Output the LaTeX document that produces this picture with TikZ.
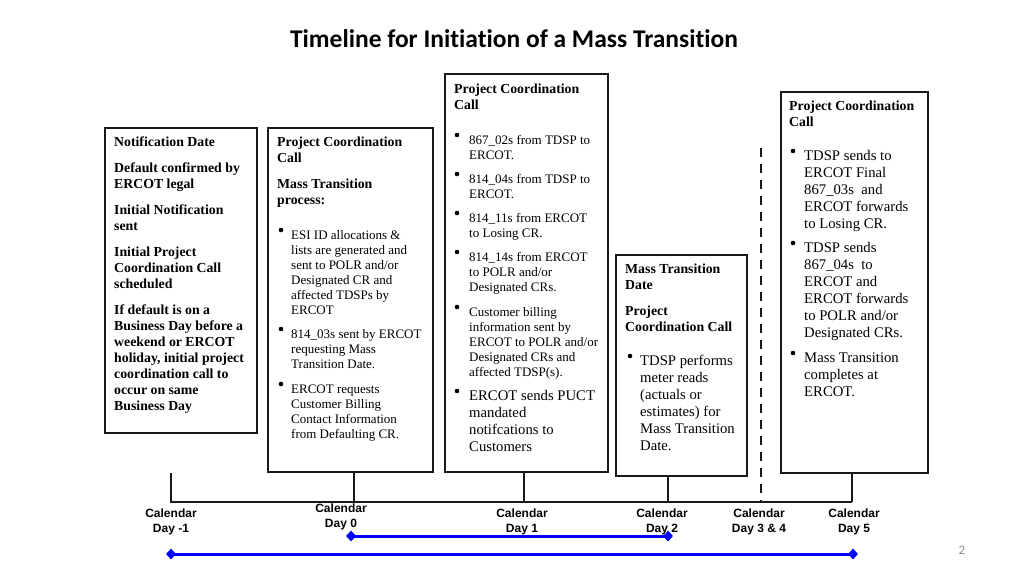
\documentclass[tikz,border=0pt]{standalone}
\usepackage{fontspec}
\setmainfont{Liberation Serif}
\newfontfamily\titlefont[Ligatures=NoCommon]{Carlito}
\newfontfamily\labfont{Liberation Sans}
\usetikzlibrary{shapes.geometric}
\newcommand\tl[1]{\begin{tabular}[t]{@{}l@{}}#1\end{tabular}}
\tikzset{
  box/.style={draw=black!90, line width=1.8pt, outer sep=0pt, inner sep=0pt, anchor=north west},
  hb/.style={anchor=base west, inner sep=0pt, font=\fontsize{13.8}{16}\selectfont\bfseries},
  sm/.style={anchor=base west, inner sep=0pt, font=\fontsize{13}{15}\selectfont},
  lg/.style={anchor=base west, inner sep=0pt, font=\fontsize{14.7}{17}\selectfont},
  bul/.style={circle, fill=black, inner sep=0pt, minimum size=4.6pt},
  tickline/.style={draw=black!90, line width=1.4pt},
  dashline/.style={draw=black!90, line width=2pt, dash pattern=on 9pt off 7pt},
  calab/.style={align=center, inner sep=0pt, anchor=base, font=\labfont\bfseries\fontsize{12}{15}\selectfont},
  dmd/.style={diamond, fill=blue, inner sep=0pt, minimum width=10pt, minimum height=11pt},
  blueline/.style={draw=blue, line width=3pt},
}
\begin{document}
\begin{tikzpicture}[x=1pt,y=-1pt]
\useasboundingbox (0,0) rectangle (1024,576);
% title
\node[anchor=base, inner sep=0pt, font=\titlefont\bfseries\fontsize{25.5}{28}\selectfont] (title) at (514,47) {Timeline for Initiation of a Mass Transition};

% boxes
\node[box, minimum width=152pt, minimum height=305pt] (b1) at (105,128) {};
\node[box, minimum width=165pt, minimum height=344pt] (b2) at (268,128) {};
\node[box, minimum width=163pt, minimum height=398pt] (b3) at (445,74) {};
\node[box, minimum width=131pt, minimum height=221pt] (b4) at (616,255) {};
\node[box, minimum width=147pt, minimum height=381pt] (b5) at (781,92) {};

% box 1
\node[hb] (b1p1) at (114,146) {\tl{Notification Date}};
\node[hb] (b1p2) at (114,172) {\tl{Default confirmed by\\ERCOT legal}};
\node[hb] (b1p3) at (114,214) {\tl{Initial Notification\\sent}};
\node[hb] (b1p4) at (114,256) {\tl{Initial Project\\Coordination Call\\scheduled}};
\node[hb] (b1p5) at (114,314) {\tl{If default is on a\\Business Day before a\\weekend or ERCOT\\holiday, initial project\\coordination call to\\occur on same\\Business Day}};

% box 2
\node[hb] (b2p1) at (277,146) {\tl{Project Coordination\\Call}};
\node[hb] (b2p2) at (277,188) {\tl{Mass Transition\\process:}};
\node[bul] (b2u1) at (281,230) {};
\node[sm] (b2p3) at (291,239) {\tl{ESI ID allocations \&\\lists are generated and\\sent to POLR and/or\\Designated CR and\\affected TDSPs by\\ERCOT}};
\node[bul] (b2u2) at (281,329) {};
\node[sm] (b2p4) at (291,338) {\tl{814\_03s sent by ERCOT\\requesting Mass\\Transition Date.}};
\node[bul] (b2u3) at (281,384) {};
\node[sm] (b2p5) at (291,393) {\tl{ERCOT requests\\Customer Billing\\Contact Information\\from Defaulting CR.}};

% box 3
\node[hb] (b3p1) at (454,93) {\tl{Project Coordination\\Call}};
\node[bul] (b3u1) at (457,135) {};
\node[sm] (b3p2) at (469,144) {\tl{867\_02s from TDSP to\\ERCOT.}};
\node[bul] (b3u2) at (457,174) {};
\node[sm] (b3p3) at (469,183) {\tl{814\_04s from TDSP to\\ERCOT.}};
\node[bul] (b3u3) at (457,213) {};
\node[sm] (b3p4) at (469,222) {\tl{814\_11s from ERCOT\\to Losing CR.}};
\node[bul] (b3u4) at (457,252) {};
\node[sm] (b3p5) at (469,261) {\tl{814\_14s from ERCOT\\to POLR and/or\\Designated CRs.}};
\node[bul] (b3u5) at (457,307) {};
\node[sm] (b3p6) at (469,316) {\tl{Customer billing\\information sent by\\ERCOT to POLR and/or\\Designated CRs and\\affected TDSP(s).}};
\node[bul] (b3u6) at (457,391) {};
\node[lg] (b3p7) at (469,400) {\tl{ERCOT sends PUCT\\mandated\\notifcations to\\Customers}};

% box 4
\node[hb] (b4p1) at (625,273) {\tl{Mass Transition\\Date}};
\node[hb] (b4p2) at (625,315) {\tl{Project\\Coordination Call}};
\node[bul] (b4u1) at (630,356) {};
\node[lg] (b4p3) at (640,365) {\tl{TDSP performs\\meter reads\\(actuals or\\estimates) for\\Mass Transition\\Date.}};

% box 5
\node[hb] (b5p1) at (789,110) {\tl{Project Coordination\\Call}};
\node[bul] (b5u1) at (793,151) {};
\node[lg] (b5p2) at (804,160) {\tl{TDSP sends to\\ERCOT Final\\867\_03s~ and\\ERCOT forwards\\to Losing CR.}};
\node[bul] (b5u2) at (793,243) {};
\node[lg] (b5p3) at (804,252) {\tl{TDSP sends\\867\_04s~ to\\ERCOT and\\ERCOT forwards\\to POLR and/or\\Designated CRs.}};
\node[bul] (b5u3) at (793,353) {};
\node[lg] (b5p4) at (804,362) {\tl{Mass Transition\\completes at\\ERCOT.}};

% timeline
\coordinate (tm1) at (171,502);
\coordinate (tm1top) at (171,473);
\coordinate (t0) at (354,502);
\coordinate (t1) at (524,502);
\coordinate (t2) at (668,502);
\coordinate (t34) at (761,502);
\coordinate (t34top) at (761,148);
\coordinate (t5) at (852,502);
\draw[tickline] (tm1top) -- (tm1) -- (t5);
\draw[tickline] (b2.south -| t0) -- (t0);
\draw[tickline] (b3.south -| t1) -- (t1);
\draw[tickline] (b4.south -| t2) -- (t2);
\draw[tickline] (b5.south -| t5) -- (t5);
\draw[dashline] (t34top) -- (t34);

% labels (anchor = baseline of last line)
\node[calab] (lm1) at (171,532) {Calendar\\Day -1};
\node[calab] (l0) at (341,527) {Calendar\\Day 0};
\node[calab] (l1) at (522,532) {Calendar\\Day 1};
\node[calab] (l2) at (662,532) {Calendar\\Day 2};
\node[calab] (l34) at (759,532) {Calendar\\Day 3 \& 4};
\node[calab] (l5) at (854,532) {Calendar\\Day 5};

% blue bars
\node[dmd] (d1a) at (351,536) {};
\node[dmd] (d1b) at (668,536) {};
\node[dmd] (d2a) at (171,554) {};
\node[dmd] (d2b) at (853,554) {};
\draw[blueline] (d1a.center) -- (d1b.center);
\draw[blueline] (d2a.center) -- (d2b.center);

% page number
\node[anchor=base, inner sep=0pt, text=black!45, font=\titlefont\fontsize{13}{15}\selectfont] (pg) at (962,554) {2};
\end{tikzpicture}
\end{document}
